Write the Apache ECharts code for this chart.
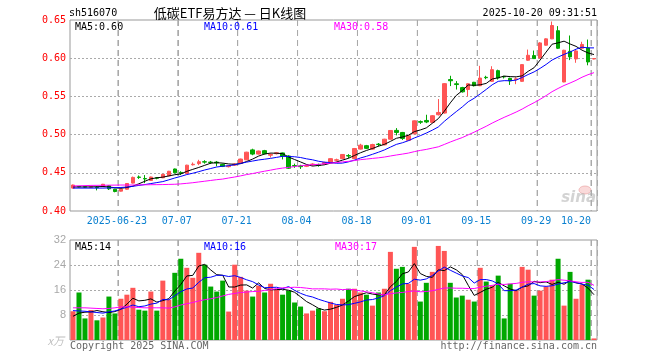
<!DOCTYPE html>
<html><head><meta charset="utf-8">
<script src="https://cdn.jsdelivr.net/npm/echarts@6/dist/echarts.min.js"></script>
<style>html,body{margin:0;padding:0;background:#fff}#c{width:660px;height:360px}</style>
</head><body><div id="c"></div>
<script>
const dates = [
'2025-06-11','2025-06-12','2025-06-13','2025-06-16','2025-06-17','2025-06-18','2025-06-19','2025-06-20','2025-06-23','2025-06-24',
'2025-06-25','2025-06-26','2025-06-27','2025-06-30','2025-07-01','2025-07-02','2025-07-03','2025-07-04','2025-07-07','2025-07-08',
'2025-07-09','2025-07-10','2025-07-11','2025-07-14','2025-07-15','2025-07-16','2025-07-17','2025-07-18','2025-07-21','2025-07-22',
'2025-07-23','2025-07-24','2025-07-25','2025-07-28','2025-07-29','2025-07-30','2025-07-31','2025-08-01','2025-08-04','2025-08-05',
'2025-08-06','2025-08-07','2025-08-08','2025-08-11','2025-08-12','2025-08-13','2025-08-14','2025-08-15','2025-08-18','2025-08-19',
'2025-08-20','2025-08-21','2025-08-22','2025-08-25','2025-08-26','2025-08-27','2025-08-28','2025-08-29','2025-09-01','2025-09-02',
'2025-09-03','2025-09-04','2025-09-05','2025-09-08','2025-09-09','2025-09-10','2025-09-11','2025-09-12','2025-09-15','2025-09-16',
'2025-09-17','2025-09-18','2025-09-19','2025-09-22','2025-09-23','2025-09-24','2025-09-25','2025-09-26','2025-09-29','2025-09-30',
'2025-10-09','2025-10-10','2025-10-13','2025-10-14','2025-10-15','2025-10-16','2025-10-17','2025-10-20'];

const open = [
.4300,.4320,.4318,.4310,.4310,.4320,.4330,.4285,.4260,.4285,
.4365,.4445,.4425,.4400,.4435,.4435,.4460,.4550,.4505,.4490,
.4605,.4620,.4645,.4640,.4640,.4610,.4580,.4600,.4625,.4670,
.4800,.4745,.4790,.4730,.4750,.4760,.4720,.4595,.4590,.4585,
.4605,.4605,.4615,.4640,.4665,.4685,.4725,.4685,.4810,.4855,
.4810,.4875,.4866,.4940,.5055,.5028,.4925,.5010,.5170,.5185,
.5160,.5260,.5282,.5720,.5665,.5615,.5590,.5685,.5640,.5750,
.5697,.5837,.5760,.5736,.5720,.5697,.5973,.6034,.6003,.6170,
.6253,.6360,.5689,.6090,.5990,.6130,.6135,.5990];
const close = [
.4340,.4315,.4312,.4318,.4305,.4350,.4290,.4255,.4285,.4360,
.4440,.4440,.4420,.4445,.4430,.4480,.4520,.4500,.4495,.4600,
.4612,.4645,.4640,.4635,.4630,.4585,.4590,.4615,.4680,.4770,
.4745,.4785,.4750,.4740,.4762,.4720,.4560,.4590,.4580,.4595,
.4615,.4598,.4635,.4685,.4670,.4740,.4720,.4818,.4862,.4820,
.4870,.4870,.4940,.5054,.5028,.4950,.4985,.5180,.5162,.5165,
.5247,.5290,.5667,.5705,.5655,.5560,.5665,.5640,.5740,.5745,
.5850,.5741,.5755,.5703,.5730,.5916,.6038,.5995,.6200,.6253,
.6428,.6130,.6104,.6017,.6095,.6180,.5951,.5995];
const low = [
.4295,.4310,.4305,.4300,.4270,.4315,.4275,.4245,.4255,.4280,
.4360,.4420,.4365,.4395,.4415,.4430,.4455,.4495,.4470,.4485,
.4595,.4600,.4620,.4615,.4585,.4575,.4570,.4590,.4620,.4665,
.4730,.4740,.4740,.4700,.4740,.4675,.4550,.4565,.4550,.4575,
.4590,.4580,.4605,.4635,.4650,.4680,.4690,.4680,.4805,.4810,
.4800,.4845,.4860,.4935,.4990,.4930,.4920,.5005,.5140,.5150,
.5150,.5250,.5275,.5635,.5590,.5550,.5500,.5630,.5635,.5725,
.5690,.5720,.5735,.5650,.5660,.5690,.5965,.5990,.5995,.6165,
.6250,.6120,.5685,.5975,.5940,.6125,.5907,.5985];
const high = [
.4345,.4325,.4322,.4322,.4325,.4355,.4340,.4290,.4290,.4365,
.4450,.4465,.4470,.4450,.4445,.4485,.4525,.4555,.4520,.4605,
.4635,.4670,.4665,.4655,.4655,.4620,.4600,.4625,.4685,.4775,
.4815,.4790,.4800,.4755,.4770,.4765,.4730,.4620,.4605,.4605,
.4625,.4620,.4645,.4690,.4685,.4745,.4745,.4825,.4880,.4865,
.4880,.4890,.4945,.5060,.5085,.5035,.4990,.5185,.5185,.5260,
.5255,.5465,.5675,.5770,.5700,.5625,.5670,.5690,.5900,.5770,
.5895,.5850,.5770,.5745,.5750,.5920,.6113,.6100,.6210,.6260,
.6480,.6420,.6110,.6297,.6120,.6215,.6244,.6000];
const volume = [
9.2,15.2,6.9,9.6,6.3,7.2,13.9,8.5,13.2,14.5,
16.7,9.7,9.4,15.5,9.4,19.0,12.9,21.5,26.0,23.1,
19.9,27.9,24.1,17.1,15.5,19.0,9.1,24.1,20.2,15.8,
13.9,17.4,15.2,18.0,16.1,14.5,15.8,12.0,10.7,8.5,
9.4,10.1,9.2,12.2,11.3,13.2,16.4,16.4,15.2,14.5,
11.0,15.2,16.4,28.2,22.8,23.4,18.0,29.8,12.3,18.3,
21.8,30.1,28.5,18.3,13.6,14.2,12.9,12.3,23.1,18.7,
17.4,20.6,6.9,18.0,15.8,23.4,22.5,14.2,15.8,17.1,
19.3,26.0,11.0,21.8,13.2,17.7,19.3,0.5];

// moving-average values before enough history exists
const priceMa5Head = [0.4315,0.4315,0.4315,0.4315];
const priceMa10Head = [0.4300,0.4300,0.4300,0.4300,0.4300,0.4300,0.4302,0.4305,0.4308];
const priceMa30Head = [0.4328,0.4330,0.4332,0.4335,0.4336,0.4337,0.4338,0.4339,0.4340,0.4340,
0.4340,0.4342,0.4343,0.4344,0.4345,0.4346,0.4348,0.4350,0.4355,0.4362,
0.4370,0.4380,0.4390,0.4400,0.4410,0.4418,0.4432,0.4445,0.4460];
const volMa5Head = [7.6,8.6,8.9,9.0];
const volMa10Head = [9.4,9.3,9.2,9.0,8.8,8.6,9.0,9.3,9.9];
const volMa30Head = [10.3,10.3,10.3,10.2,10.1,10.0,10.1,10.3,10.6,10.6,
10.5,10.4,10.3,10.3,10.3,10.3,10.2,10.6,11.2,11.6,
12.0,12.5,12.9,13.2,13.6,14.1,14.6,14.9,15.2];

const tickDates = ['2025-06-23','2025-07-07','2025-07-21','2025-08-04','2025-08-18','2025-09-01','2025-09-15','2025-09-29','2025-10-20'];
const tickLabels = ['2025-06-23','07-07','07-21','08-04','08-18','09-01','09-15','09-29','10-20'];
const priceLegend = ['MA5:0.60','MA10:0.61','MA30:0.58'];
const volLegend = ['MA5:14','MA10:16','MA30:17'];
const priceTicks = ['0.40','0.45','0.50','0.55','0.60','0.65'];
const volTicks = ['8','16','24','32'];

function movingAvg(src, n, head) {
  return src.map(function (v, i) {
    if (i < n - 1) return head[i];
    let s = 0;
    for (let j = i - n + 1; j <= i; j++) s += src[j];
    return +(s / n).toFixed(4);
  });
}

const RED = '#ff5555', GREEN = '#00a800';
const MONO = '"DejaVu Sans Mono", "Liberation Mono", monospace';
const tickIdx = tickDates.map(d => dates.indexOf(d));
const kData = dates.map((d, i) => [open[i], close[i], low[i], high[i]]);
const volData = volume.map((v, i) => ({value: v, itemStyle: {color: close[i] >= open[i] ? RED : GREEN}}));
const pMin = +priceTicks[0], pMax = +priceTicks[priceTicks.length - 1];
const vMax = +volTicks[volTicks.length - 1];

// vertical date lines (top to bottom) at each labelled day's left edge, on a hidden day-position axis
function dateLines(yLo, yHi) {
  const out = [];
  tickIdx.forEach(i => { out.push([i, yHi], [i, yLo], [i, '-']); });
  return out;
}

const chart = echarts.init(document.getElementById('c'), null, {renderer: 'canvas'});
const dotted = {color: '#aaa', width: 1, type: [2, 2]};
const dashed = {color: '#aaa', width: 1, type: [6, 4]};

function xLabel(value, index) {
  const k = tickIdx.indexOf(index);
  if (k < 0) return '';
  if (k === tickIdx.length - 1) return '{e|' + tickLabels[k] + '}';
  return '{m|' + tickLabels[k] + '}';
}

const lineBase = {type: 'line', showSymbol: false, symbol: 'none', silent: true, smooth: false};
const txt = (x, y, text, fill, extra) => ({type: 'text', x: x, y: y, z: 10,
  style: Object.assign({text: text, font: '10px ' + MONO, fill: fill, verticalAlign: 'middle', textVerticalAlign: 'middle'}, extra || {})});

chart.setOption({
  animation: false,
  backgroundColor: '#fff',
  grid: [
    {left: 70, top: 20, width: 527, height: 191, show: true, borderColor: '#999', borderWidth: 1},
    {left: 70, top: 240, width: 527, height: 100, show: true, borderColor: '#999', borderWidth: 1}
  ],
  xAxis: [
    {type: 'category', gridIndex: 0, data: dates, boundaryGap: true,
     axisLine: {show: false}, axisTick: {show: false},
     axisLabel: {interval: (i) => tickIdx.indexOf(i) >= 0, formatter: xLabel, margin: 5,
       color: '#0a80d0', fontFamily: MONO, fontSize: 10,
       rich: {m: {color: '#0a80d0', fontFamily: MONO, fontSize: 10, padding: [0, 8, 0, 0]},
              e: {color: '#0a80d0', fontFamily: MONO, fontSize: 10, padding: [0, 36, 0, 0]}}},
     splitLine: {show: true, interval: (i) => tickIdx.indexOf(i) >= 0, lineStyle: dashed}},
    {type: 'category', gridIndex: 1, data: dates, boundaryGap: true,
     axisLine: {show: false}, axisTick: {show: false}, axisLabel: {show: false},
     splitLine: {show: true, interval: (i) => tickIdx.indexOf(i) >= 0, lineStyle: dashed}},
    {type: 'value', gridIndex: 0, min: 0, max: dates.length, show: false},
    {type: 'value', gridIndex: 1, min: 0, max: dates.length, show: false}
  ],
  yAxis: [
    {type: 'value', gridIndex: 0, min: pMin, max: pMax, interval: 0.05,
     axisLine: {show: false}, axisTick: {show: false},
     axisLabel: {color: '#ff0000', fontFamily: MONO, fontSize: 10, margin: 4, formatter: v => v.toFixed(2)},
     splitLine: {show: true, showMinLine: false, showMaxLine: false, lineStyle: dotted}},
    {type: 'value', gridIndex: 1, min: 0, max: vMax, interval: 8,
     axisLine: {show: false}, axisTick: {show: false},
     axisLabel: {color: '#a8a8a8', fontFamily: '"Liberation Sans", Arial, sans-serif', fontSize: 11, margin: 4,
       formatter: v => (volTicks.indexOf(String(v)) >= 0 ? String(v) : '')},
     splitLine: {show: true, showMinLine: false, showMaxLine: false, lineStyle: dotted}}
  ],
  series: [
    Object.assign({}, lineBase, {xAxisIndex: 2, yAxisIndex: 0, data: dateLines(pMin, pMax), connectNulls: false, z: 1,
      lineStyle: dashed}),
    Object.assign({}, lineBase, {xAxisIndex: 3, yAxisIndex: 1, data: dateLines(0, vMax), connectNulls: false, z: 1,
      lineStyle: dashed}),
    {type: 'candlestick', xAxisIndex: 0, yAxisIndex: 0, data: kData, barWidth: 4, z: 3,
     itemStyle: {color: RED, color0: GREEN, borderColor: RED, borderColor0: GREEN, borderWidth: 1}, silent: true},
    Object.assign({}, lineBase, {xAxisIndex: 0, yAxisIndex: 0, data: movingAvg(close, 5, priceMa5Head), lineStyle: {color: '#000', width: 1}, z: 5}),
    Object.assign({}, lineBase, {xAxisIndex: 0, yAxisIndex: 0, data: movingAvg(close, 10, priceMa10Head), lineStyle: {color: '#0000ff', width: 1}, z: 5}),
    Object.assign({}, lineBase, {xAxisIndex: 0, yAxisIndex: 0, data: movingAvg(close, 30, priceMa30Head), lineStyle: {color: '#ff00ff', width: 1}, z: 5}),
    {type: 'bar', xAxisIndex: 1, yAxisIndex: 1, data: volData, barWidth: 5, z: 3, silent: true},
    Object.assign({}, lineBase, {xAxisIndex: 1, yAxisIndex: 1, data: movingAvg(volume, 5, volMa5Head), lineStyle: {color: '#000', width: 1}, z: 5}),
    Object.assign({}, lineBase, {xAxisIndex: 1, yAxisIndex: 1, data: movingAvg(volume, 10, volMa10Head), lineStyle: {color: '#0000ff', width: 1}, z: 5}),
    Object.assign({}, lineBase, {xAxisIndex: 1, yAxisIndex: 1, data: movingAvg(volume, 30, volMa30Head), lineStyle: {color: '#ff00ff', width: 1}, z: 5})
  ],
  graphic: [
    txt(69, 13, 'sh516070', '#000'),
    {type: 'text', x: 230, y: 13, style: {text: '低碳ETF易方达 — 日K线图', font: '13px "Noto Sans CJK SC"', fill: '#000', align: 'center', textAlign: 'center', verticalAlign: 'middle', textVerticalAlign: 'middle'}},
    txt(597, 13, '2025-10-20 09:31:51', '#000', {align: 'right', textAlign: 'right'}),
    txt(75, 27, priceLegend[0], '#000'),
    txt(204, 27, priceLegend[1], '#0000ff'),
    txt(334, 27, priceLegend[2], '#ff00ff'),
    txt(75, 247, volLegend[0], '#000'),
    txt(204, 247, volLegend[1], '#0000ff'),
    txt(335, 247, volLegend[2], '#ff00ff'),
    {type: 'text', x: 64, y: 341, style: {text: 'x万', font: 'italic 11px "Noto Sans CJK SC"', fill: '#c0c0c0', align: 'right', textAlign: 'right', verticalAlign: 'middle', textVerticalAlign: 'middle'}},
    txt(70, 346, 'Copyright 2025 SINA.COM', '#666'),
    txt(597, 346, 'http://finance.sina.com.cn', '#666', {align: 'right', textAlign: 'right'}),
    {type: 'ellipse', shape: {cx: 585, cy: 190, rx: 6, ry: 4}, style: {fill: 'rgba(240,150,150,0.35)', stroke: 'rgba(230,140,140,0.5)'}, z: 1},
    {type: 'text', x: 596, y: 198, z: 1, style: {text: 'sina', font: 'italic bold 15px "DejaVu Sans"', fill: 'rgba(175,175,175,0.55)', align: 'right', textAlign: 'right', verticalAlign: 'middle', textVerticalAlign: 'middle'}}
  ]
});
</script></body></html>
